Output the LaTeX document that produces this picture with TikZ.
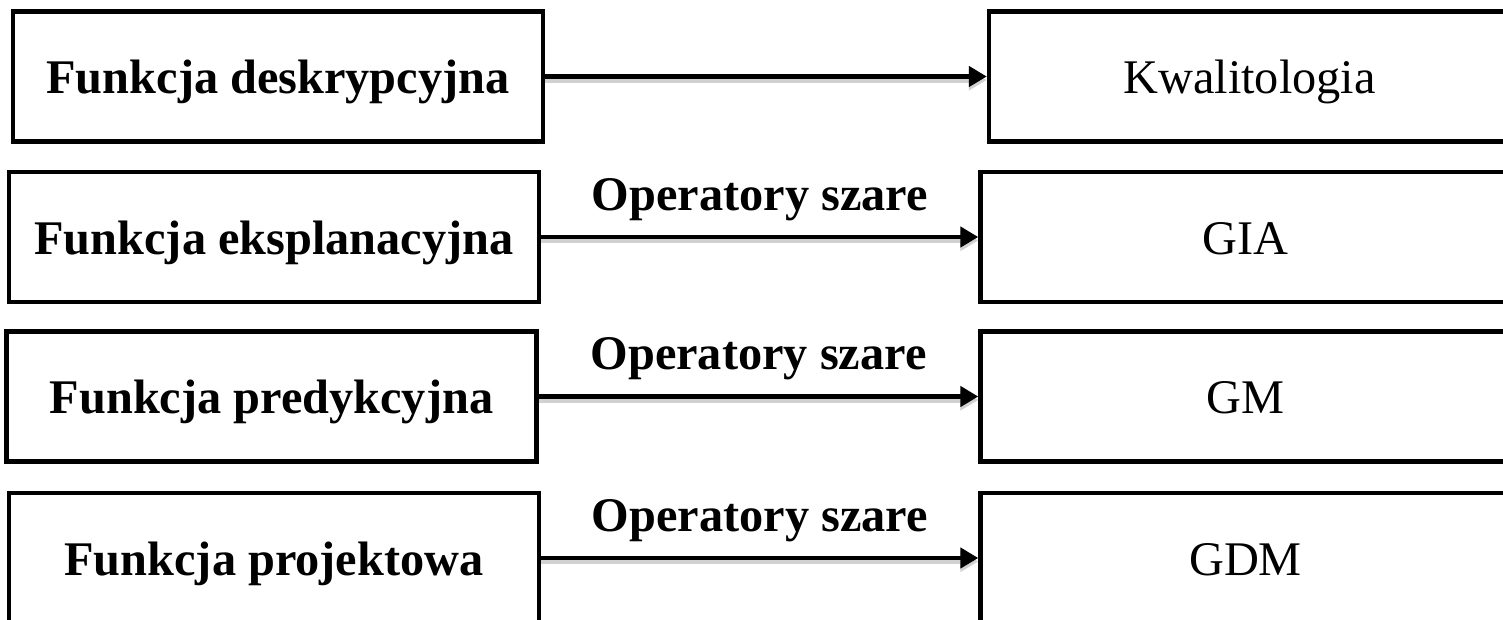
\documentclass[tikz,border=0pt]{standalone}
\usepackage{fontspec}
\setmainfont{Liberation Serif}
\usetikzlibrary{arrows.meta}

\begin{document}
\begin{tikzpicture}[x=0.02cm,y=-0.02cm,
  box/.style={draw,line width=0.09cm,minimum width=10.6cm,minimum height=2.6cm,
    text height=0.68cm,text depth=0pt,font=\fontsize{27.5}{33}\selectfont},
  fun/.style={box,font=\fontsize{27.5}{33}\selectfont\bfseries},
  arr/.style={line width=0.09cm,-{Triangle[length=0.36cm,width=0.4cm]},
    preaction={draw=black!18,line width=0.1cm,transform canvas={yshift=-0.07cm}}},
  op/.style={above,inner sep=0.33cm,outer sep=0pt,font=\fontsize{27.5}{33}\selectfont\bfseries}]
\useasboundingbox (0,0) rectangle (1503,619);

% functions
\node[fun] (desk) at (278,76.5) {Funkcja deskrypcyjna};
\node[fun] (eksp) at (274,237) {Funkcja eksplanacyjna};
\node[fun] (pred) at (271.5,396.5) {Funkcja predykcyjna};
\node[fun] (proj) at (274,558) {Funkcja projektowa};

% methods
\node[box,minimum width=10.42cm] (kwal) at (1249.5,76.5) {Kwalitologia};
\node[box] (gia) at (1245.5,237) {GIA};
\node[box] (gm) at (1245.5,396.5) {GM};
\node[box] (gdm) at (1245.5,558) {GDM};

\draw[arr] (desk) -- (kwal);
\foreach \f/\m in {eksp/gia, pred/gm, proj/gdm}{
  \draw[arr] (\f) -- node[op]{Operatory szare} (\m);
}
\end{tikzpicture}
\end{document}
